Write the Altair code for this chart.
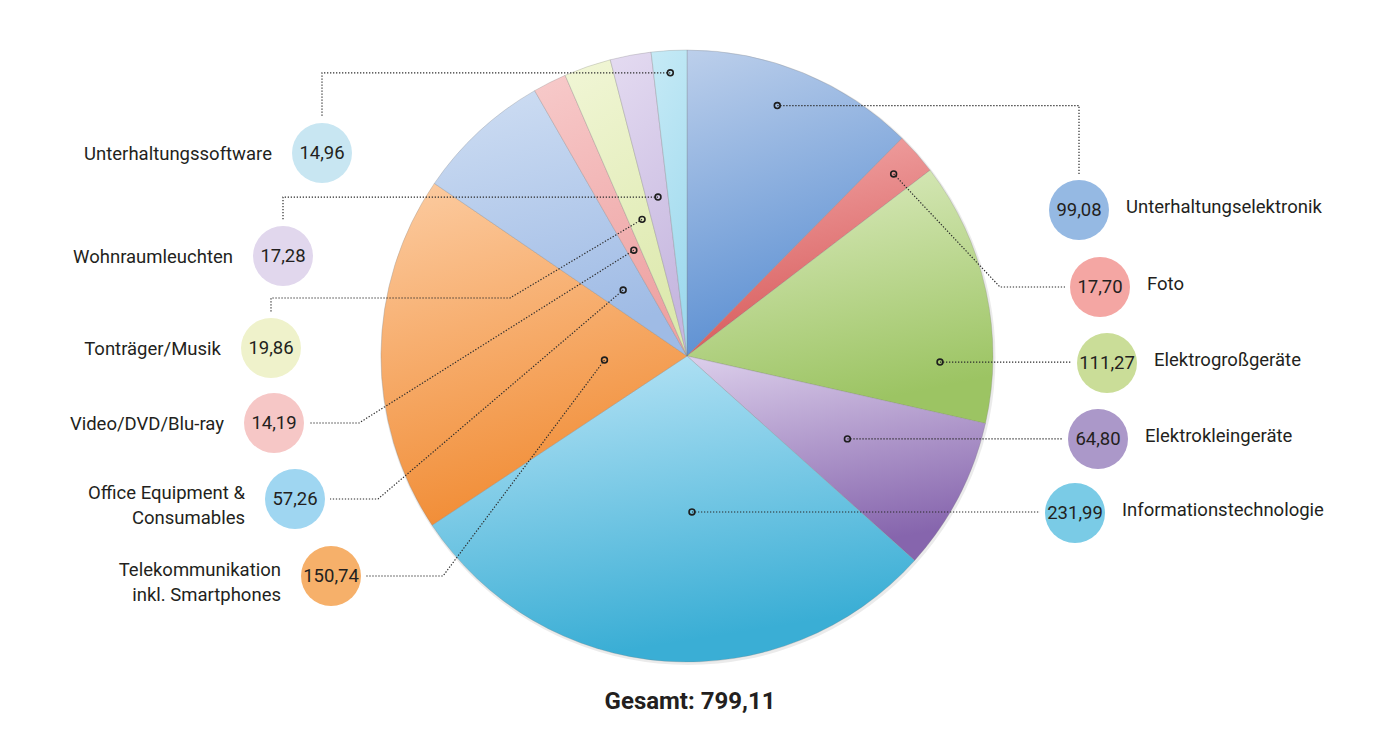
import math
import numpy as np
import pandas as pd
import altair as alt

# ---------------- data ----------------
categories = [
    "Unterhaltungselektronik", "Foto", "Elektrogroßgeräte", "Elektrokleingeräte",
    "Informationstechnologie", "Telekommunikation inkl. Smartphones",
    "Office Equipment & Consumables", "Video/DVD/Blu-ray", "Tonträger/Musik",
    "Wohnraumleuchten", "Unterhaltungssoftware",
]
label_text = [
    "Unterhaltungselektronik", "Foto", "Elektrogroßgeräte", "Elektrokleingeräte",
    "Informationstechnologie", "Telekommunikation\ninkl. Smartphones",
    "Office Equipment &\nConsumables", "Video/DVD/Blu-ray", "Tonträger/Musik",
    "Wohnraumleuchten", "Unterhaltungssoftware",
]
values = [99.08, 17.70, 111.27, 64.80, 231.99, 150.74, 57.26, 14.19, 19.86, 17.28, 14.96]
total_text = "Gesamt: 799,11"

# ---------------- styles ----------------
slice_light = ["#bccfeb", "#f3aaaa", "#dfedc4", "#dccfeb", "#bde6f7", "#fccca2",
               "#cfdef3", "#f7caca", "#f1f6d6", "#e4dbf1", "#c6eaf6"]
slice_dark = ["#5b8fd2", "#d75b5b", "#9cc463", "#8665ad", "#3aaed5", "#f18d36",
              "#9fbbe5", "#eea3a3", "#dde9ae", "#c6b7df", "#a0daee"]
bubble_colors = ["#95b9e3", "#f4a6a3", "#cadd98", "#ab98c9", "#7acbe6", "#f6b06a",
                 "#9fd6f1", "#f6c7c6", "#eff2cb", "#e1d7ed", "#c8e6f2"]
FONT = "Roboto, Liberation Sans, sans-serif"
TXT = "#231f20"

# ---------------- layout (page pixels) ----------------
OFF = 8
W, H = 1359, 722
PCX, PCY, R = 687 - OFF, 356 - OFF, 306
BR = 30  # bubble radius
# side, bubble centre, anchor radius fraction, anchor angle shift (deg), leader kind, elbow
layout = {
    "Unterhaltungselektronik": ("right", 1079, 210, 0.87, -2.5, "hv", None, None),
    "Foto": ("right", 1100, 287, 0.90, 0.0, "dh", 1000, None),
    "Elektrogroßgeräte": ("right", 1107, 363, 0.827, 13.7, "h", None, None),
    "Elektrokleingeräte": ("right", 1098, 439, 0.59, 0.0, "h", None, None),
    "Informationstechnologie": ("right", 1075, 513, 0.51, -6.0, "h", None, None),
    "Telekommunikation inkl. Smartphones": ("left", 331, 576, 0.27, -3.2, "dh", 443, None),
    "Office Equipment & Consumables": ("left", 295, 499, 0.30, -1.3, "dh", 378, None),
    "Video/DVD/Blu-ray": ("left", 274, 423, 0.387, 0.0, "dh", 359, None),
    "Tonträger/Musik": ("left", 271, 348, 0.47, 0.8, "dhv", 510, 298),
    "Wohnraumleuchten": ("left", 283, 256, 0.528, 0.3, "hv", None, None),
    "Unterhaltungssoftware": ("left", 322, 153, 0.927, 0.0, "hv", None, None),
}

total = float(sum(values))
vals = np.array(values)
ends = np.cumsum(vals)
starts = ends - vals

rows, lead_rows = [], []
for i, cat in enumerate(categories):
    side, cx, cy, rf, shift, kind, ex, ey = layout[cat]
    cx, cy = cx - OFF, cy - OFF
    mid = (starts[i] + ends[i]) / 2 / total * 2 * math.pi + math.radians(shift)
    ax = PCX + rf * R * math.sin(mid)
    ay = PCY - rf * R * math.cos(mid)
    sgn = 1 if side == "right" else -1
    edge = cx - sgn * (BR + 5)
    if kind == "hv":
        pts = [(ax, ay), (cx, ay), (cx, cy - BR - 6)]
    elif kind == "h":
        pts = [(ax, ay), (edge, ay)]
    elif kind == "dh":
        pts = [(ax, ay), (ex - OFF, cy), (edge, cy)]
    else:
        pts = [(ax, ay), (ex - OFF, ey - OFF), (cx, ey - OFF), (cx, cy - BR - 6)]
    for k, (px, py) in enumerate(pts):
        lead_rows.append({"category": cat, "seq": k, "px": px, "py": py})
    nlines = label_text[i].count("\n") + 1
    rows.append({
        "category": cat, "order": i, "value": values[i],
        "vlabel": f"{values[i]:.2f}".replace(".", ","),
        "label": label_text[i], "side": side,
        "cx": cx, "cy": cy, "ax": ax, "ay": ay,
        "tx": cx + sgn * (BR + (17 if side == "right" else 20)),
        "ty": cy + (-3 if side == "right" else (-6 if nlines > 1 else 1)),
    })

df = pd.DataFrame(rows)
lead = pd.DataFrame(lead_rows)

# ---------------- pie ----------------
base = alt.Chart(df).transform_window(
    cum="sum(value)", sort=[alt.SortField("order")], frame=[None, 0]
).transform_calculate(start="datum.cum - datum.value")

shadow = alt.Chart(pd.DataFrame({"s": [1]})).mark_arc(
    theta=0, theta2=2 * math.pi, outerRadius=R + 1.5, color="#000000", opacity=0.08
).encode(x=alt.value(PCX + 1), y=alt.value(PCY + 1.5))

slices = []
for i, cat in enumerate(categories):
    grad = alt.Gradient(
        gradient="linear",
        stops=[alt.GradientStop(color=slice_light[i], offset=0),
               alt.GradientStop(color=slice_dark[i], offset=1)],
        x1=0, x2=0.25, y1=0, y2=1,
    )
    slices.append(
        base.transform_filter(alt.datum.order == i).mark_arc(
            outerRadius=R, color=grad, stroke="#7f7f7f", strokeWidth=0.8, strokeOpacity=0.35
        ).encode(
            theta=alt.Theta("start:Q", scale=alt.Scale(domain=[0, total])),
            theta2="cum:Q",
            x=alt.value(PCX), y=alt.value(PCY),
        )
    )

# ---------------- annotations ----------------
leaders = alt.Chart(lead).mark_line(
    color="#2b2b2b", strokeWidth=1.2, strokeDash=[1.3, 1.7]
).encode(
    x=alt.X("px:Q", scale=None), y=alt.Y("py:Q", scale=None),
    detail="category:N", order="seq:Q",
)

anchors = alt.Chart(df).mark_point(
    shape="circle", size=34, color="#1e1e1e", strokeWidth=1.6, opacity=1
).encode(x=alt.X("ax:Q", scale=None), y=alt.Y("ay:Q", scale=None))

bubbles = alt.Chart(df).mark_circle(size=(2 * BR) ** 2, opacity=1).encode(
    x=alt.X("cx:Q", scale=None), y=alt.Y("cy:Q", scale=None),
    color=alt.Color("category:N", scale=alt.Scale(domain=categories, range=bubble_colors), legend=None),
)

vtext = alt.Chart(df).mark_text(font=FONT, fontSize=18.5, color=TXT, baseline="middle").encode(
    x=alt.X("cx:Q", scale=None), y=alt.Y("cy:Q", scale=None), text="vlabel:N"
)

rlabels = alt.Chart(df).transform_filter(alt.datum.side == "right").mark_text(
    font=FONT, fontSize=18.5, color=TXT, align="left", baseline="middle", lineBreak="\n", lineHeight=25
).encode(x=alt.X("tx:Q", scale=None), y=alt.Y("ty:Q", scale=None), text="label:N")

llabels = alt.Chart(df).transform_filter(alt.datum.side == "left").mark_text(
    font=FONT, fontSize=18.5, color=TXT, align="right", baseline="middle", lineBreak="\n", lineHeight=25
).encode(x=alt.X("tx:Q", scale=None), y=alt.Y("ty:Q", scale=None), text="label:N")

title = alt.Chart(pd.DataFrame({"t": [total_text]})).mark_text(
    font=FONT, fontSize=24, fontWeight="bold", color=TXT, baseline="middle"
).encode(x=alt.value(690 - OFF), y=alt.value(702 - OFF), text="t:N")

chart = alt.layer(
    shadow, *slices, leaders, anchors, bubbles, vtext, rlabels, llabels, title
).properties(
    width=W, height=H, padding=0, background="white",
    autosize=alt.AutoSizeParams(type="none"),
).configure_view(stroke=None)

chart.save("out.html", embed_options={"renderer": "svg", "actions": False})
